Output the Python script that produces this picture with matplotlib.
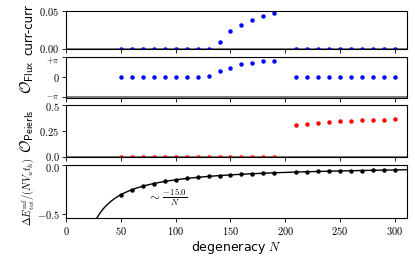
import numpy as np
import matplotlib.pyplot as plt
from matplotlib.transforms import ScaledTranslation

plt.rcParams['mathtext.fontset'] = 'cm'
plt.rcParams['font.size'] = 8

# degeneracy values
N_lo = [50, 60, 70, 80, 90, 100, 110, 120, 130, 140, 150, 160, 170, 180, 190]
N_hi = [210, 220, 230, 240, 250, 260, 270, 280, 290, 300]

# current-current correlation
cc_lo = [0, 0, 0, 0, 0, 0, 0, 0, 0.0003, 0.009, 0.0237, 0.0319, 0.0383, 0.0427, 0.0466]
cc_hi = [0, 0, 0, 0, 0, 0, 0, 0, 0, 0]

# flux order parameter
flux_lo = [0, 0, 0, 0, 0, 0, 0, 0.02, 0.16, 0.94, 1.51, 2.04, 2.29, 2.51, 2.53]
flux_hi = [0, 0, 0, 0, 0, 0, 0, 0, 0, 0]

# Peierls order parameter
peierls_lo = [0, 0, 0, 0, 0, 0, 0, 0, 0, 0, 0, 0, 0, 0, 0]
peierls_hi = [0.304, 0.319, 0.329, 0.336, 0.342, 0.345, 0.352, 0.357, 0.358, 0.364]

# mean-field energy difference
de_lo = [-0.300, -0.250, -0.214, -0.188, -0.167, -0.150, -0.136, -0.125,
         -0.115, -0.107, -0.100, -0.094, -0.088, -0.083, -0.079]
de_hi = [-0.071, -0.068, -0.065, -0.0625, -0.060, -0.058, -0.056, -0.054, -0.052, -0.050]
fit_coef = -15.0

xticks = [0, 50, 100, 150, 200, 250, 300]

fig = plt.figure(figsize=(4.15, 2.6), dpi=100)
W, H = 415, 260
def box(l, t, r, b):
    return [l / W, 1 - b / H, (r - l) / W, (b - t) / H]

ax1 = fig.add_axes(box(66.3, 10.7, 406.7, 49.3))
ax2 = fig.add_axes(box(66.3, 57.0, 406.7, 97.8))
ax3 = fig.add_axes(box(66.3, 104.7, 406.7, 157.3))
ax4 = fig.add_axes(box(66.3, 165, 406.7, 218.3))

ms = 3.2
N_all = N_lo + N_hi

# panel 1
ax1.axhline(0, color='gray', lw=1.5, zorder=1)
ax1.plot(N_all, cc_lo + cc_hi, 'o', color='blue', ms=ms, mec='none')
ax1.set_ylim(0, 0.05)
ax1.set_yticks([0, 0.05])
ax1.set_yticklabels(['$0.00$', '$0.05$'])
ax1.set_ylabel('curr-curr', fontsize=8.5)

# panel 2
ax2.axhline(np.pi, color='gray', lw=1.5, zorder=1)
ax2.axhline(-np.pi, color='gray', lw=1.5, zorder=1)
ax2.plot(N_all, flux_lo + flux_hi, 'o', color='blue', ms=ms, mec='none')
ax2.set_ylim(-np.pi * 1.02, np.pi * 1.02)
ax2.set_yticks([-np.pi, 0, np.pi])
ax2.set_yticklabels([r'$-\pi$', '$0$', r'$+\pi$'])
ax2.set_ylabel(r'$\mathcal{O}_{\mathsf{Flux}}$', fontsize=11)

# panel 3
ax3.axhline(0, color='gray', lw=1.5, zorder=1)
ax3.plot(N_all, peierls_lo + peierls_hi, 'o', color='red', ms=ms, mec='none')
ax3.set_ylim(0, 0.5)
ax3.set_yticks([0, 0.25, 0.5])
ax3.set_yticklabels(['$0.0$', '$0.25$', '$0.5$'])
ax3.set_ylabel(r'$\mathcal{O}_{\mathsf{Peierls}}$', fontsize=11)

# panel 4
ax4.axhline(0, color='gray', lw=1.5, zorder=1)
Nfit = np.linspace(20, 315, 300)
ax4.plot(Nfit, fit_coef / Nfit, color='black', lw=1)
ax4.plot(N_all, de_lo + de_hi, 'o', color='black', ms=ms, mec='none')
ax4.set_ylim(-0.54, 0.0)
ax4.set_yticks([-0.5, 0.0])
ax4.set_yticklabels(['$-0.5$', '$0.0$'])
ax4.set_ylabel(r'$\Delta E^{\rm mf}_{\rm tot}/(NV_ut_h)$', fontsize=7.5)
ax4.text(92, -0.33, r'$\sim\,\frac{-15.0}{N}$', ha='center', va='center', fontsize=9)
ax4.set_xlabel('degeneracy $N$', fontsize=9, labelpad=1)

for ax in (ax1, ax2, ax3, ax4):
    ax.set_xlim(0, 311)
    ax.set_xticks(xticks)
    ax.tick_params(direction='out', length=3, width=0.6, labelsize=7.5, pad=2)
    for s in ax.spines.values():
        s.set_linewidth(0.8)
    ax.yaxis.set_label_coords(-0.09, 0.5)
for ax in (ax1, ax2, ax3):
    ax.set_xticklabels([])
ax4.set_xticklabels(['$%d$' % t for t in xticks])

# small nudges so crowded tick labels at panel edges do not collide
def nudge(lab, dy_px):
    lab.set_transform(lab.get_transform() + ScaledTranslation(0, dy_px / 100, fig.dpi_scale_trans))

t2 = ax2.get_yticklabels()
for lab in (t2[0], t2[2]):
    lab.set_fontsize(6)
nudge(t2[2], -2.5)
nudge(t2[0], 2.5)
nudge(ax3.get_yticklabels()[2], -1.0)
nudge(ax3.get_yticklabels()[0], 1.5)
nudge(ax1.get_yticklabels()[0], 1.0)
nudge(ax4.get_yticklabels()[1], -1.5)

fig.savefig('out.png', dpi=100)
